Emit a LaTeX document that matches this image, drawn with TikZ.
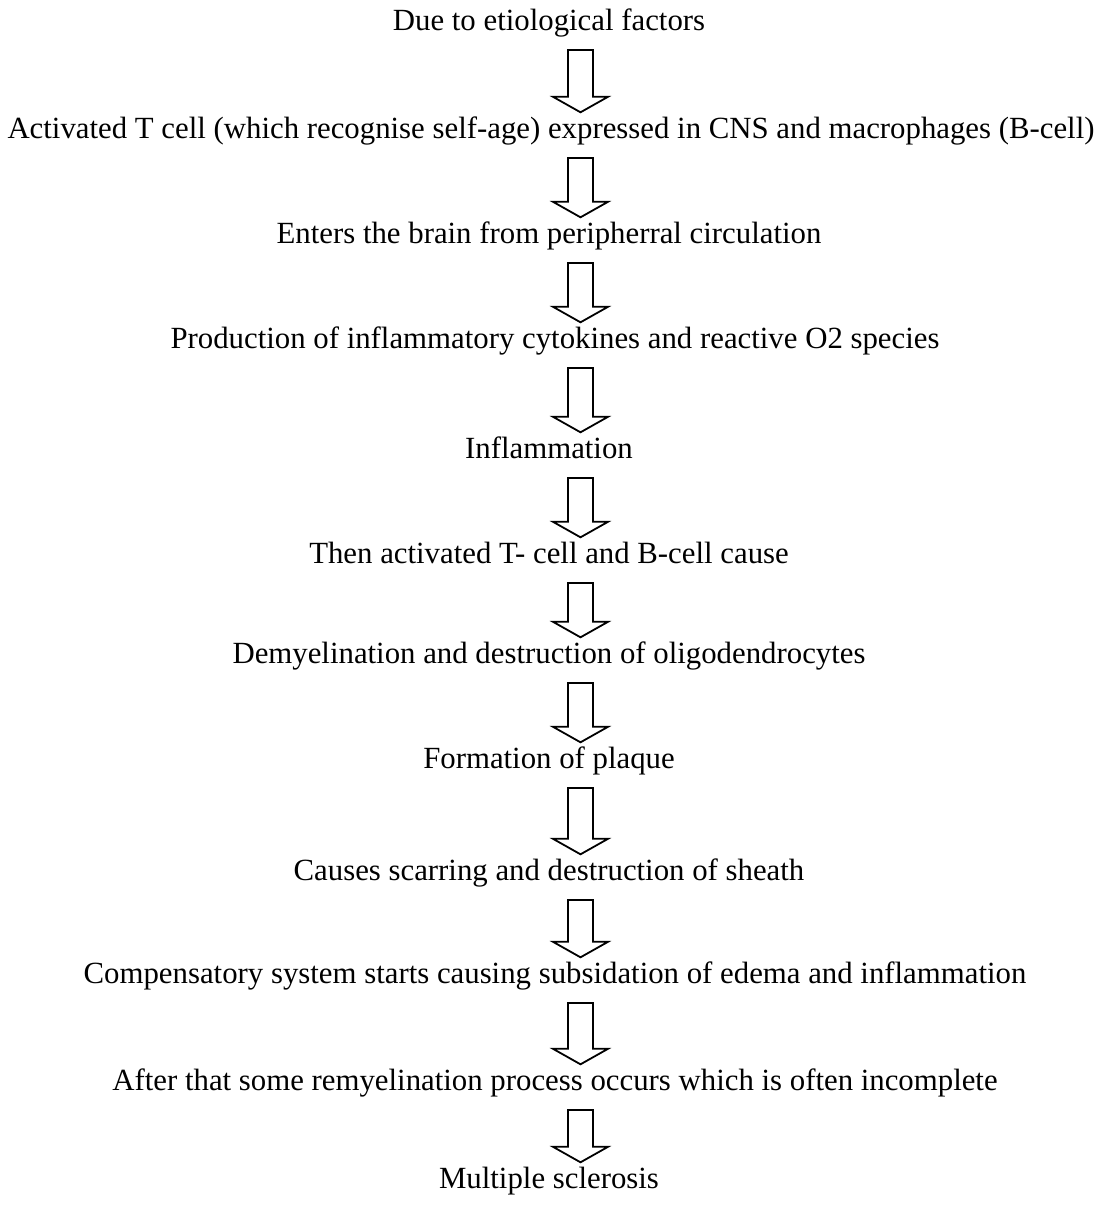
\documentclass[tikz,border=0pt]{standalone}
\usepackage{fontspec}
\setmainfont{Liberation Serif}
\usetikzlibrary{calc}

\begin{document}
\begin{tikzpicture}[x=0.5pt, y=-0.5pt,
	stage/.style={inner sep=0pt, text height=11pt, text depth=3.5pt, anchor=base, font=\fontsize{15.4}{18}\selectfont},
	blockarrow/.style={draw, line width=0.9pt, to path={
		let \p1=(\tikztostart), \p2=(\tikztotarget) in
		(284pt,\y1-6.25pt) -- (296.5pt,\y1-6.25pt) -- (296.5pt,\y2+9.4pt)
		-- (304pt,\y2+9.4pt) -- (290.25pt,\y2+1.65pt) -- (276.5pt,\y2+9.4pt)
		-- (284pt,\y2+9.4pt) -- cycle}}]
	\useasboundingbox (0,0) rectangle (1097,1205);
	\node[stage, name=due] at (549, 30) {Due to etiological factors};
	\node[stage, name=tcell] at (551, 138) {Activated T cell (which recognise self-age) expressed in CNS and macrophages (B-cell)};
	\node[stage, name=enters] at (549, 243) {Enters the brain from peripherral circulation};
	\node[stage, name=cyto] at (555, 348) {Production of inflammatory cytokines and reactive O2 species};
	\node[stage, name=infl] at (549, 458) {Inflammation};
	\node[stage, name=cause] at (549, 563) {Then activated T- cell and B-cell cause};
	\node[stage, name=demy] at (549, 663) {Demyelination and destruction of oligodendrocytes};
	\node[stage, name=plaque] at (549, 768) {Formation of plaque};
	\node[stage, name=scar] at (549, 880) {Causes scarring and destruction of sheath};
	\node[stage, name=comp] at (555, 983) {Compensatory system starts causing subsidation of edema and inflammation};
	\node[stage, name=remy] at (555, 1090) {After that some remyelination process occurs which is often incomplete};
	\node[stage, name=ms] at (549, 1188) {Multiple sclerosis};
	\draw[blockarrow] (due.south) to (tcell.north);
	\draw[blockarrow] (tcell.south) to (enters.north);
	\draw[blockarrow] (enters.south) to (cyto.north);
	\draw[blockarrow] (cyto.south) to (infl.north);
	\draw[blockarrow] (infl.south) to (cause.north);
	\draw[blockarrow] (cause.south) to (demy.north);
	\draw[blockarrow] (demy.south) to (plaque.north);
	\draw[blockarrow] (plaque.south) to (scar.north);
	\draw[blockarrow] (scar.south) to (comp.north);
	\draw[blockarrow] (comp.south) to (remy.north);
	\draw[blockarrow] (remy.south) to (ms.north);
\end{tikzpicture}
\end{document}
